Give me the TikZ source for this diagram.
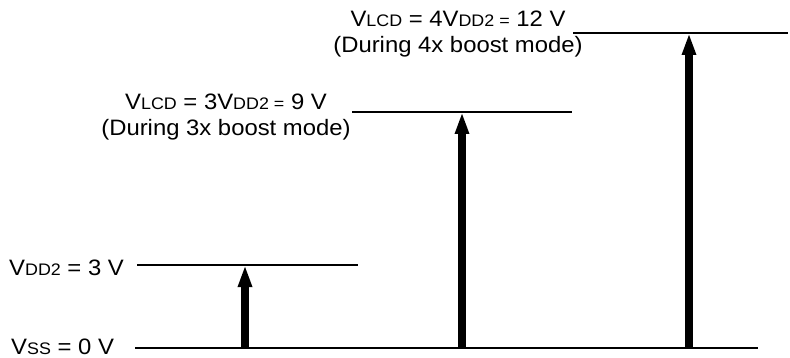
\documentclass[tikz,border=0pt]{standalone}
\usepackage{fontspec}
\setmainfont[FakeStretch=1.07]{Liberation Sans}
\usetikzlibrary{arrows.meta}
\newcommand\lowsub[1]{{\fontsize{16.7pt}{16.7pt}\selectfont #1}}
\tikzset{
  level/.style={line width=2.5pt},
  boost/.style={line width=8pt,-{Triangle[length=22pt,width=13pt]}},
  lbl/.style={inner sep=0pt,font=\fontsize{22.3pt}{26pt}\selectfont}
}
\begin{document}
\begin{tikzpicture}[x=1pt,y=-1pt]
\useasboundingbox (0,0) rectangle (790,358);
% level lines
\coordinate (ssL) at (135,348); \coordinate (ssR) at (758,348);
\coordinate (ddL) at (137,265); \coordinate (ddR) at (358,265);
\coordinate (l3L) at (352,112); \coordinate (l3R) at (572,112);
\coordinate (l4L) at (573,33);  \coordinate (l4R) at (788,33);
\draw[level] (ssL) -- (ssR);
\draw[level] (ddL) -- (ddR);
\draw[level] (l3L) -- (l3R);
\draw[level] (l4L) -- (l4R);
% arrows
\coordinate (a1b) at (245,348); \coordinate (a1t) at (245,265);
\coordinate (a2b) at (462,348); \coordinate (a2t) at (462,112);
\coordinate (a3b) at (689,348); \coordinate (a3t) at (689,33);
\draw[boost] (a1b) -- (a1t);
\draw[boost] (a2b) -- (a2t);
\draw[boost] (a3b) -- (a3t);
% labels
\node[lbl,anchor=base west] (tss) at (11,354) {V\lowsub{SS} = 0 V};
\node[lbl,anchor=base west] (tdd) at (9,276) {V\lowsub{DD2} = 3 V};
\node[lbl,anchor=base] (t3a) at (226,110) {V\lowsub{LCD} = 3V\lowsub{DD2 =} 9 V};
\node[lbl,anchor=base] (t3b) at (226,136) {(During 3x boost mode)};
\node[lbl,anchor=base] (t4a) at (458,27) {V\lowsub{LCD} = 4V\lowsub{DD2 =} 12 V};
\node[lbl,anchor=base] (t4b) at (458,53) {(During 4x boost mode)};
\end{tikzpicture}
\end{document}
